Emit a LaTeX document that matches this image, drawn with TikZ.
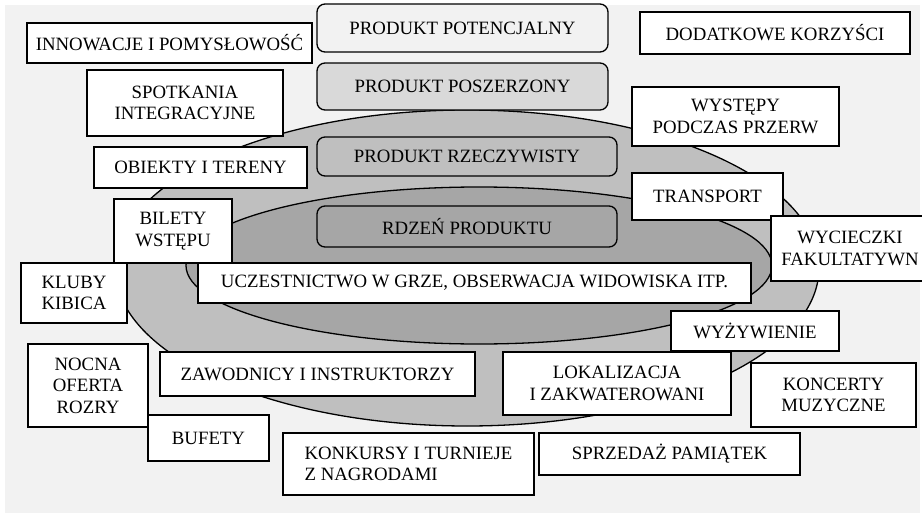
\documentclass[tikz,border=0pt]{standalone}
\usepackage{fontspec}
\setmainfont{Liberation Serif}
\usepackage{xcolor}
\usetikzlibrary{calc}
\definecolor{figbg}{HTML}{F2F2F2}
\definecolor{figpotenc}{HTML}{F2F2F2}
\definecolor{figposzer}{HTML}{D9D9D9}
\definecolor{figrzecz}{HTML}{BFBFBF}
\definecolor{figrdzen}{HTML}{A6A6A6}

\begin{document}
\begin{tikzpicture}[x=1pt,y=-1pt,
        boxtxt/.style={font=\fontsize{18.8}{21.4}\selectfont, align=center, inner sep=2pt},
        plainbox/.style={boxtxt, draw=black, line width=1.3pt, fill=white},
        levelbox/.style={boxtxt, draw=black, line width=1.3pt, rounded corners=8pt}]
        \newcommand{\figprodouterxcent}{467}
        \newcommand{\figprodouterycent}{268}
        \newcommand{\figprodouterxrad}{352pt}
        \newcommand{\figprodouteryrad}{158pt}
        \newcommand{\figprodinnerxcent}{479}
        \newcommand{\figprodinnerycent}{265.5}
        \newcommand{\figprodinnerxrad}{293pt}
        \newcommand{\figprodinneryrad}{78.5pt}
        \useasboundingbox (0,0) rectangle (922,514);
        \fill[figbg] (5,5) rectangle (920,513);
        % the two layers of the product
        \draw[line width=1.3pt, fill=figrzecz] (\figprodouterxcent,\figprodouterycent) ellipse [x radius=\figprodouterxrad, y radius=\figprodouteryrad];
        \draw[line width=1.3pt, fill=figrdzen] (\figprodinnerxcent,\figprodinnerycent) ellipse [x radius=\figprodinnerxrad, y radius=\figprodinneryrad];
        % levels
        \node[levelbox, fill=figpotenc, minimum width=291pt, minimum height=48pt] (potencjalny) at (462.5,28) {PRODUKT POTENCJALNY};
        \node[levelbox, fill=figposzer, minimum width=291pt, minimum height=47pt] (poszerzony) at (462.5,86.5) {PRODUKT POSZERZONY};
        \node[levelbox, fill=figrzecz, minimum width=300pt, minimum height=39pt] (rzeczywisty) at (467,156.5) {PRODUKT RZECZYWISTY};
        \node[levelbox, fill=figrdzen, minimum width=300pt, minimum height=41pt] (rdzen) at (467,226.5) {RDZEŃ PRODUKTU};
        % elements
        \node[plainbox, minimum width=285pt, minimum height=40pt] (innowacje) at (169.5,43) {INNOWACJE I POMYSŁOWOŚĆ};
        \node[plainbox, minimum width=270pt, minimum height=42pt] (korzysci) at (775,33) {DODATKOWE KORZYŚCI};
        \node[plainbox, minimum width=196pt, minimum height=66pt] (spotkania) at (185,103) {SPOTKANIA\\INTEGRACYJNE};
        \node[plainbox, minimum width=207pt, minimum height=59pt] (wystepy) at (735.5,116.5) {WYSTĘPY\\PODCZAS PRZERW};
        \node[plainbox, minimum width=213pt, minimum height=41pt] (obiekty) at (200.5,167.5) {OBIEKTY I TERENY};
        \node[plainbox, minimum width=151pt, minimum height=47pt] (transport) at (707.5,196.5) {TRANSPORT};
        \node[plainbox, minimum width=158pt, minimum height=65pt] (wycieczki) at (850,248.5) {WYCIECZKI\\FAKULTATYWN};
        \node[plainbox, minimum width=118pt, minimum height=64pt] (bilety) at (173,231) {BILETY\\WSTĘPU};
        \node[plainbox, minimum width=106pt, minimum height=60pt] (kluby) at (74,293) {KLUBY\\KIBICA};
        \node[plainbox, minimum width=553pt, minimum height=40pt] (uczestnictwo) at (474.5,283) {UCZESTNICTWO W GRZE, OBSERWACJA WIDOWISKA ITP.};
        \node[plainbox, minimum width=168pt, minimum height=40pt] (wyzywienie) at (755,331) {WYŻYWIENIE};
        \node[plainbox, minimum width=120pt, minimum height=83pt] (nocna) at (88,385.5) {NOCNA\\OFERTA\\ROZRY};
        \node[plainbox, minimum width=315pt, minimum height=44pt] (zawodnicy) at (317.5,374) {ZAWODNICY I INSTRUKTORZY};
        \node[plainbox, minimum width=228pt, minimum height=63pt] (lokalizacja) at (617,383.5) {LOKALIZACJA\\I ZAKWATEROWANI};
        \node[plainbox, minimum width=165pt, minimum height=64pt] (koncerty) at (833.5,395) {KONCERTY\\MUZYCZNE};
        \node[plainbox, minimum width=121pt, minimum height=46pt] (bufety) at (208.5,438) {BUFETY};
        \node[plainbox, align=left, minimum width=251pt, minimum height=62pt] (konkursy) at (408.5,464) {KONKURSY I TURNIEJE\\Z NAGRODAMI};
        \node[plainbox, minimum width=261pt, minimum height=42pt] (pamiatki) at (669.5,454) {SPRZEDAŻ PAMIĄTEK};
\end{tikzpicture}
\end{document}
